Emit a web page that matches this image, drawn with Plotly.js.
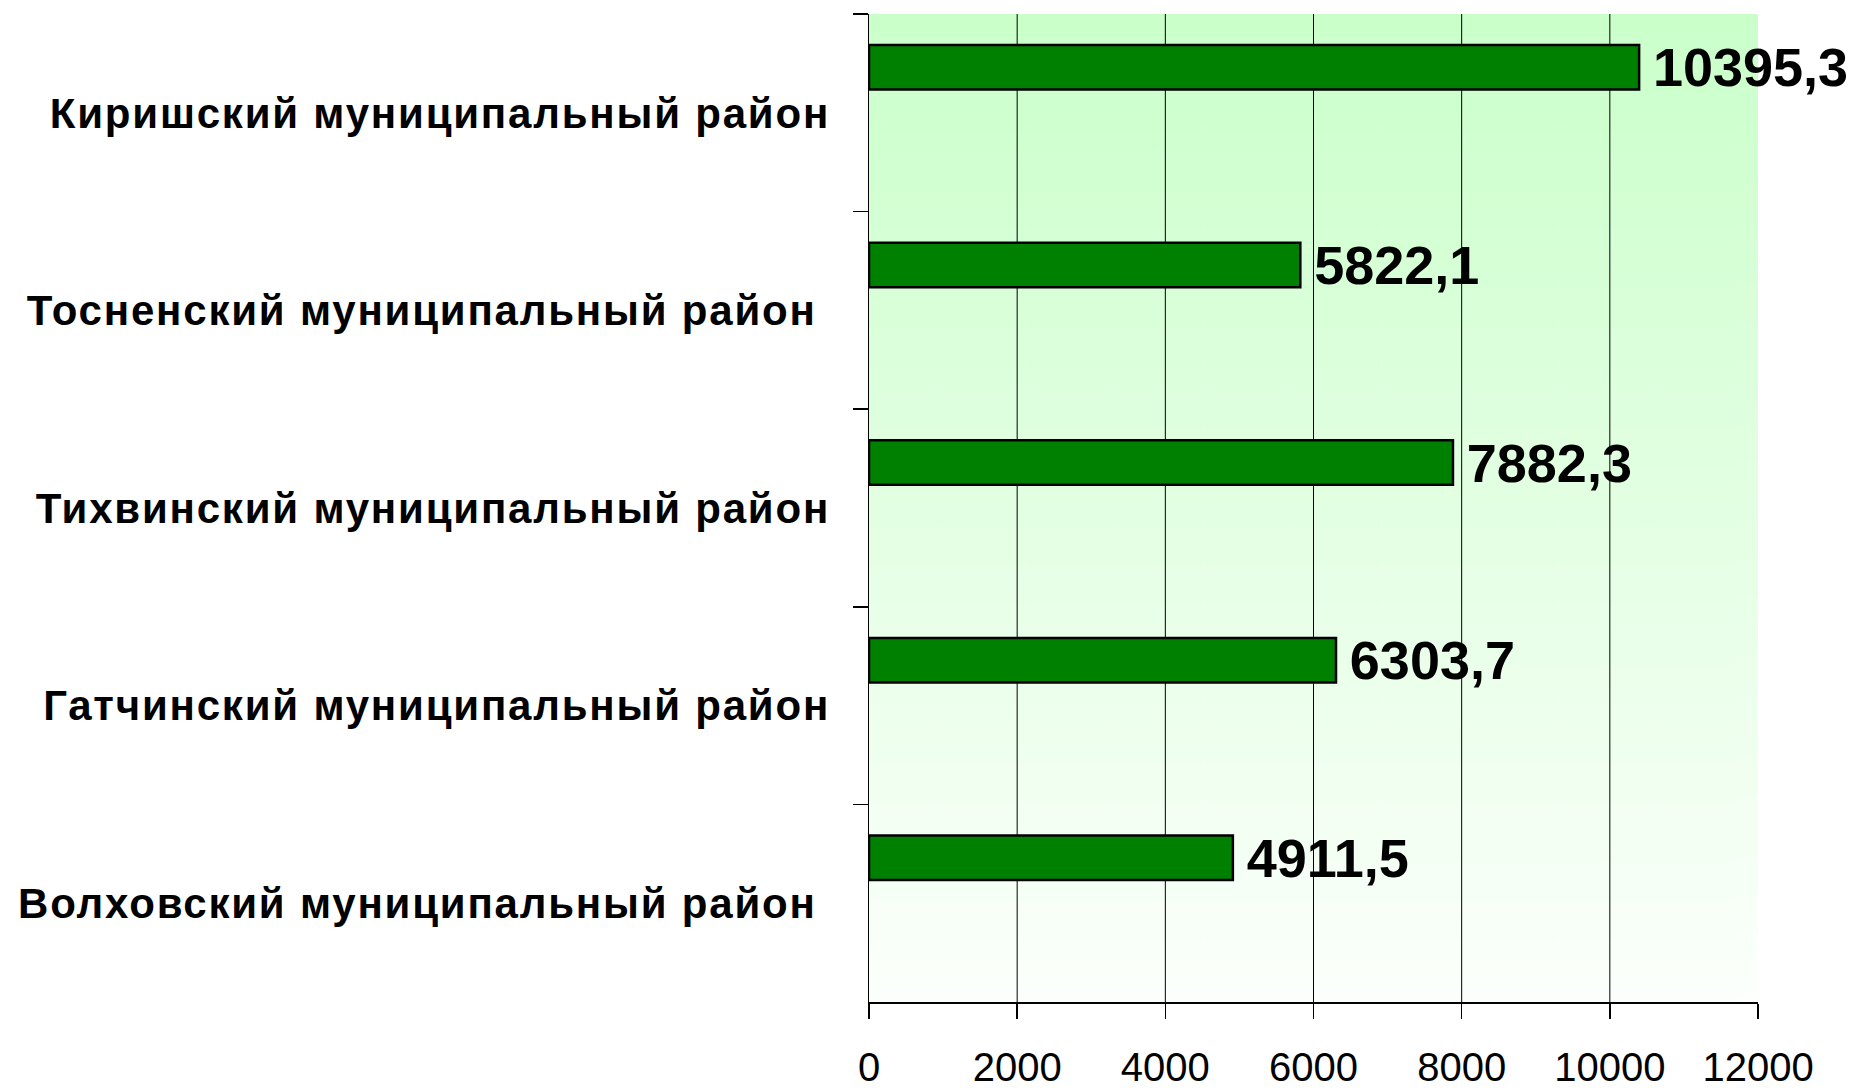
<!DOCTYPE html>
<html><head><meta charset="utf-8">
<script src="https://cdn.plot.ly/plotly-3.0.1.min.js"></script>
<style>
body{margin:0;background:#fff}
#chart{width:1850px;height:1092px}
#chart .ytick text{letter-spacing:1.8px}
</style>
</head><body><div id="chart"></div>
<script>
// Data (top-to-bottom order as shown)
const categories = [
  'Киришский муниципальный район',
  'Тосненский муниципальный район\u00a0',
  'Тихвинский муниципальный район',
  'Гатчинский муниципальный район',
  'Волховский муниципальный район\u00a0'
];
const values = [10395.3, 5822.1, 7882.3, 6303.7, 4911.5];
const valueLabels = ['10395,3', '5822,1', '7882,3', '6303,7', '4911,5'];
const xTickVals = [0, 2000, 4000, 6000, 8000, 10000, 12000];
const xRange = [0, 12000];

// gradient background image for plot area
function gradientURL(){
  const c = document.createElement('canvas');
  c.width = 20; c.height = 400;
  const g = c.getContext('2d');
  const gr = g.createLinearGradient(0, 0, 0, 400);
  gr.addColorStop(0, 'rgb(202,255,202)');
  gr.addColorStop(1, 'rgb(252,255,252)');
  g.fillStyle = gr; g.fillRect(0, 0, 20, 400);
  return c.toDataURL('image/png');
}

const trace = {
  type: 'bar',
  orientation: 'h',
  y: categories,
  x: values,
  text: valueLabels,
  textposition: 'outside',
  texttemplate: '\u2009%{text}',
  constraintext: 'none',
  cliponaxis: false,
  textfont: {family: 'Liberation Sans, Arial, sans-serif', size: 54, color: '#000', weight: 'bold'},
  marker: {color: '#008000', line: {color: '#000', width: 2.5}},
  width: 0.225,
  offset: -0.3425,
  hoverinfo: 'none'
};

// vertical gridlines at the inner tick values (no line at the right edge, as in the original)
const gridShapes = xTickVals.slice(1, -1).map(v => ({
  type: 'line', xref: 'x', yref: 'paper', x0: v, x1: v, y0: 0, y1: 1,
  line: {color: '#000', width: 1}, layer: 'below'
}));

const layout = {
  width: 1850, height: 1092,
  margin: {l: 869, r: 92, t: 14, b: 90},
  paper_bgcolor: '#ffffff',
  plot_bgcolor: 'rgba(0,0,0,0)',
  showlegend: false,
  images: [{source: gradientURL(), xref: 'paper', yref: 'paper', x: 0, y: 1, sizex: 1, sizey: 1,
            sizing: 'stretch', xanchor: 'left', yanchor: 'top', layer: 'below'}],
  shapes: gridShapes,
  xaxis: {
    range: xRange, tickvals: xTickVals, tickformat: 'd',
    showgrid: false,
    zeroline: false, showline: true, linecolor: '#000', linewidth: 1.5,
    ticks: 'outside', ticklen: 15, tickcolor: '#000', tickwidth: 1.5,
    ticklabelstandoff: 14,
    tickfont: {family: 'Liberation Sans, Arial, sans-serif', size: 40, color: '#000'},
    fixedrange: true
  },
  yaxis: {
    type: 'category', autorange: 'reversed',
    showgrid: false, zeroline: false,
    showline: true, linecolor: '#000', linewidth: 1.5,
    ticks: 'outside', ticklen: 15, tickcolor: '#000', tickwidth: 1.5,
    tickson: 'boundaries',
    ticklabelstandoff: 29,
    tickfont: {family: 'Liberation Sans, Arial, sans-serif', size: 42, color: '#000', weight: 'bold'},
    fixedrange: true
  }
};

Plotly.newPlot('chart', [trace], layout, {displayModeBar: false, staticPlot: true});
</script>
</body></html>
